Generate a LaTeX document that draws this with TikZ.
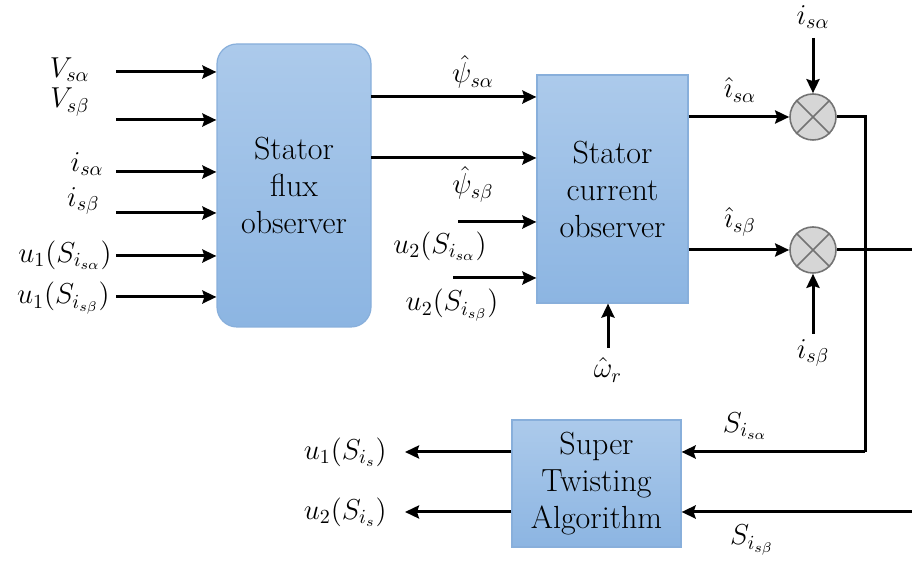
\documentclass[tikz,border=0pt]{standalone}
\usetikzlibrary{arrows.meta}
\definecolor{boxtop}{RGB}{172,202,235}
\definecolor{boxbot}{RGB}{140,181,226}
\definecolor{boxline}{RGB}{136,175,219}
\definecolor{sumfill}{RGB}{214,214,214}
\definecolor{sumline}{RGB}{115,115,115}
\begin{document}
\begin{tikzpicture}[x=0.5pt,y=-0.5pt,
  font=\fontsize{14.5}{18.5}\selectfont,
  wire/.style={line width=1.5pt},
  arr/.style={line width=1.5pt,-{Stealth[length=7pt,width=6.5pt,inset=1pt]}},
  blk/.style={draw=boxline,line width=0.6pt,top color=boxtop,bottom color=boxbot,inner sep=0pt,align=center,font=\fontsize{16}{18.5}\selectfont},
  sumj/.style={circle,draw=sumline,fill=sumfill,line width=0.8pt,minimum size=23pt,inner sep=0pt},
  lbl/.style={inner sep=0pt}]
\useasboundingbox (0,0) rectangle (912,565);
% blocks
\node[blk,rounded corners=10pt,minimum width=77pt,minimum height=141.5pt] (flux) at (294,185.5) {Stator\\flux\\observer};
\node[blk,minimum width=75.5pt,minimum height=114pt] (cur) at (612.5,189) {Stator\\current\\observer};
\node[blk,minimum width=84.5pt,minimum height=63.5pt] (st) at (596.5,483.5) {Super\\Twisting\\Algorithm};
% summing junctions
\node[sumj] (c1) at (813,117) {};
\node[sumj] (c2) at (813,250) {};
\draw[sumline,line width=0.8pt] (c1.north west) -- (c1.south east) (c1.north east) -- (c1.south west);
\draw[sumline,line width=0.8pt] (c2.north west) -- (c2.south east) (c2.north east) -- (c2.south west);
% flux inputs
\node[lbl,anchor=east] (lva) at (90,70) {$V_{s\alpha}$};
\node[lbl,anchor=east] (lvb) at (90,102) {$V_{s\beta}$};
\node[lbl,anchor=east] (lia) at (104,164) {$i_{s\alpha}$};
\node[lbl,anchor=east] (lib) at (100,201) {$i_{s\beta}$};
\node[lbl,anchor=east] (lua) at (112,255) {$u_1(S_{i_{s\alpha}})$};
\node[lbl,anchor=east] (lub) at (110,298) {$u_1(S_{i_{s\beta}})$};
\coordinate (iva) at (116,72);
\coordinate (ivb) at (116,120);
\coordinate (iia) at (116,172);
\coordinate (iib) at (116,213);
\coordinate (iua) at (116,256);
\coordinate (iub) at (116,297);
\foreach \c in {iva,ivb,iia,iib,iua,iub} \draw[arr] (\c) -- (\c -| flux.west);
% flux to current observer
\coordinate (pa) at (371,97);
\coordinate (pb) at (371,158);
\draw[arr] (pa) -- (pa -| cur.west);
\draw[arr] (pb) -- (pb -| cur.west);
\node[lbl] (lpa) at (473,72) {$\hat{\psi}_{s\alpha}$};
\node[lbl] (lpb) at (473,184) {$\hat{\psi}_{s\beta}$};
% u2 inputs
\coordinate (u2a) at (458,222);
\coordinate (u2b) at (453,278);
\draw[arr] (u2a) -- (u2a -| cur.west);
\draw[arr] (u2b) -- (u2b -| cur.west);
\node[lbl] (lu2a) at (440,246) {$u_2(S_{i_{s\alpha}})$};
\node[lbl] (lu2b) at (452,305) {$u_2(S_{i_{s\beta}})$};
% omega
\coordinate (om) at (608,348);
\draw[arr] (om) -- (om |- cur.south);
\node[lbl] (lom) at (608,370) {$\hat{\omega}_r$};
% current observer outputs
\draw[arr] (c1 -| cur.east) -- (c1.west);
\draw[arr] (c2 -| cur.east) -- (c2.west);
\node[lbl] (lha) at (740,90) {$\hat{\imath}_{s\alpha}$};
\node[lbl] (lhb) at (740,222) {$\hat{\imath}_{s\beta}$};
% measured currents
\coordinate (ta) at (813,38);
\coordinate (tb) at (813,334);
\draw[arr] (ta) -- (c1.north);
\draw[arr] (tb) -- (c2.south);
\node[lbl] (lta) at (813,17) {$i_{s\alpha}$};
\node[lbl] (ltb) at (813,353) {$i_{s\beta}$};
% feedback
\coordinate (k1) at (865,117);
\coordinate (k2) at (865,452);
\draw[wire] (c1.east) -- (k1) -- (k2);
\draw[arr] (k2) -- (k2 -| st.east);
\coordinate (re) at (912,250);
\draw[wire] (c2.east) -- (re);
\coordinate (rb) at (912,512);
\draw[arr] (rb) -- (rb -| st.east);
\node[lbl] (lsa) at (745,426) {$S_{i_{s\alpha}}$};
\node[lbl] (lsb) at (752,540) {$S_{i_{s\beta}}$};
% ST outputs
\coordinate (o1) at (405,452);
\coordinate (o2) at (405,512);
\draw[arr] (o1 -| st.west) -- (o1);
\draw[arr] (o2 -| st.west) -- (o2);
\node[lbl,anchor=east] (lo1) at (387,452) {$u_1(S_{i_s})$};
\node[lbl,anchor=east] (lo2) at (387,512) {$u_2(S_{i_s})$};
\end{tikzpicture}
\end{document}
